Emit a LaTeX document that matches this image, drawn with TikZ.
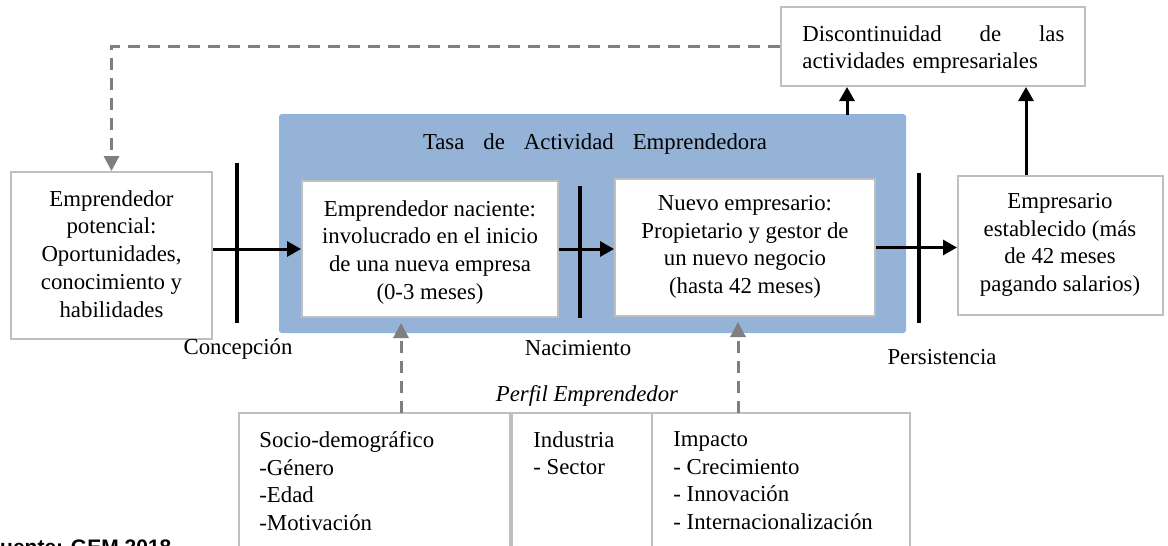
\documentclass[tikz,border=0pt]{standalone}
\usepackage{fontspec}
\setmainfont{Liberation Serif}
\newfontfamily\arialf{Liberation Sans}
\usetikzlibrary{arrows.meta,fit,calc}
\definecolor{boxgray}{HTML}{BFBFBF}
\definecolor{dashgray}{HTML}{7F7F7F}
\definecolor{bluefill}{HTML}{95B3D7}
\definecolor{blueedge}{HTML}{8DB4E2}
\begin{document}
\begin{tikzpicture}[x=0.5pt,y=-0.5pt,
  every node/.style={font=\fontsize{11.4}{13.85}\selectfont},
  gbox/.style={draw=boxgray, line width=1pt, fill=white, inner sep=0pt},
  bluebox/.style={draw=blueedge, fill=bluefill, line width=1pt, rounded corners=1pt, inner sep=0pt},
  ptext/.style={inner sep=0pt, align=left, anchor=north west},
  ctext/.style={inner sep=0pt, align=center, anchor=north},
  bar/.style={line width=2pt, black},
  arr/.style={line width=1.5pt, black, -{Triangle[length=7pt,width=7.5pt]}},
  darr/.style={line width=1.5pt, dashgray, dash pattern=on 6pt off 4pt, -{Triangle[length=7.5pt,width=7.5pt]}},
  lbl/.style={inner sep=0pt}
]
\useasboundingbox (0,0) rectangle (1168,546);
\clip (0,0) rectangle (1168,546);

% blue container
\node[bluebox, fit={(280,115) (905,332)}] (tasa) {};
\node[lbl] (tasat) at (595,144) {\makebox[172pt][s]{Tasa\hfill de\hfill Actividad\hfill Emprendedora}};

% main boxes
\node[gbox, fit={(11,172) (212,339)}] (pot) {};
\node[ctext] (pott) at (111.5,190) {Emprendedor\\potencial:\\Oportunidades,\\conocimiento y\\habilidades};
\node[gbox, fit={(302,181) (558,317)}] (nac) {};
\node[ctext] (nact) at (430,200) {Emprendedor naciente:\\involucrado en el inicio\\de una nueva empresa\\(0-3 meses)};
\node[gbox, fit={(615,179) (875,316)}] (nue) {};
\node[ctext] (nuet) at (745,195) {Nuevo empresario:\\Propietario y gestor de\\un nuevo negocio\\(hasta 42 meses)};
\node[gbox, fit={(958,176) (1163,315)}] (est) {};
\node[ctext] (estt) at (1060,193) {Empresario\\establecido (más\\de 42 meses\\pagando salarios)};
\node[gbox, fit={(781,7) (1085,86)}] (disc) {};
\node[ptext, text width=131pt] (disct) at (802,25) {\makebox[131pt][s]{Discontinuidad\hfill de\hfill las}\\actividades empresariales};

% phase bars
\coordinate (b1t) at (237,163); \coordinate (b1b) at (237,323);
\coordinate (b2t) at (580,186); \coordinate (b2b) at (580,318);
\coordinate (b3t) at (919,173); \coordinate (b3b) at (919,323);
\draw[bar] (b1t) -- (b1b);
\draw[bar] (b2t) -- (b2b);
\draw[bar] (b3t) -- (b3b);

% phase labels
\node[lbl] (concep) at (238,349) {Concepción};
\node[lbl] (nacim) at (578,348) {Nacimiento};
\node[lbl] (persis) at (942,357) {Persistencia};
\node[lbl, font=\fontsize{11.4}{13.85}\selectfont\itshape] (perfil) at (587,396) {Perfil Emprendedor};

% profile boxes
\node[gbox, fit={(239,413) (510,570)}] (socio) {};
\node[gbox, fit={(512,413) (652,570)}] (ind) {};
\node[gbox, fit={(652,413) (910,570)}] (imp) {};
\node[ptext] (sociot) at (259,431) {Socio-demográfico\\-Género\\-Edad\\-Motivación};
\node[ptext] (indt) at (533,431) {Industria\\- Sector};
\node[ptext] (impt) at (673,431) {Impacto\\- Crecimiento\\- Innovación\\- Internacionalización};

% source
\node[anchor=base west, inner sep=0pt, font=\arialf\bfseries\fontsize{10.5}{12}\selectfont] (fuente) at (-13,554) {Fuente: GEM 2018};

% connectors
\draw[arr] (pot.east |- nac.west) -- (nac.west);
\draw[arr] (nac.east) -- (nac.east -| nue.west);
\draw[arr] (nue.east) -- (nue.east -| est.west);
\coordinate (up1) at (847,115);
\draw[arr] (up1) -- (up1 |- disc.south);
\coordinate (up2) at (1026,176);
\draw[arr] (up2 |- est.north) -- (up2 |- disc.south);
\draw[darr] (disc.west) -| (pot.north);
\coordinate (d1) at (401,413);
\draw[darr, shorten >=2.5pt] (d1) -- (d1 |- nac.south);
\coordinate (d2) at (738,413);
\draw[darr, shorten >=2.5pt] (d2) -- (d2 |- nue.south);
\end{tikzpicture}
\end{document}
